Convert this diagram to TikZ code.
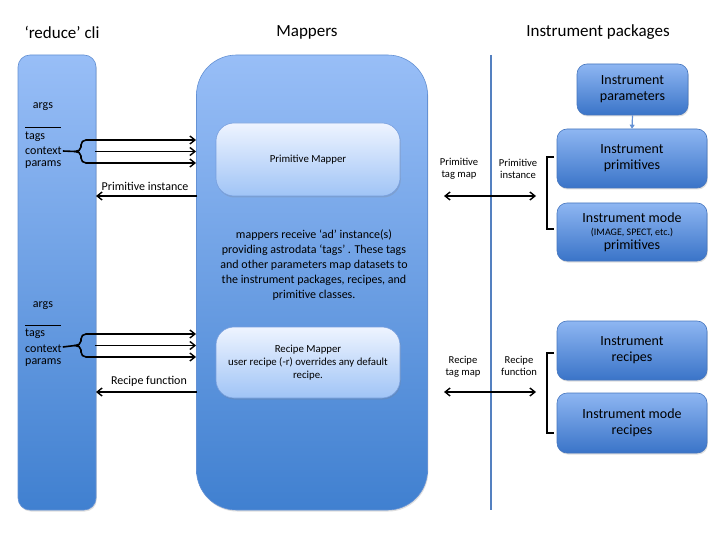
\documentclass[tikz,border=0pt]{standalone}
\usepackage{fontspec}
\setmainfont{Carlito}
\usetikzlibrary{arrows.meta,shadows}
\definecolor{colTop}{RGB}{152,190,247}
\definecolor{colBot}{RGB}{64,128,208}
\definecolor{colEdge}{RGB}{100,145,212}
\definecolor{boxTop}{RGB}{142,182,242}
\definecolor{boxBot}{RGB}{58,116,200}
\definecolor{boxEdge}{RGB}{70,118,190}
\definecolor{mapTop}{RGB}{238,244,255}
\definecolor{mapBot}{RGB}{160,196,246}
\definecolor{mapEdge}{RGB}{118,158,222}
\definecolor{divider}{RGB}{84,128,192}
\tikzset{
  hdr/.style={font=\fontsize{17}{19}\selectfont, inner sep=0pt},
  lbl/.style={font=\fontsize{12}{14}\selectfont, inner sep=0pt},
  sidelbl/.style={font=\fontsize{10.6}{12}\selectfont, inner sep=0pt, align=center},
  shad/.style={drop shadow={opacity=0.25, shadow xshift=0.8pt, shadow yshift=-1.5pt}},
  instbox/.style={draw=boxEdge, line width=0.6pt, rounded corners=10pt, top color=boxTop, bottom color=boxBot,
     font=\fontsize{14}{16}\selectfont, align=center, inner sep=0pt, shad},
  mapbox/.style={draw=mapEdge, line width=0.6pt, rounded corners=18pt, top color=mapTop, bottom color=mapBot,
     font=\fontsize{10.8}{13}\selectfont, align=center, inner sep=0pt, minimum width=184pt, shad},
  arr/.style={line width=1.6pt, -{Straight Barb[length=5pt,width=8pt,line width=1.4pt]}},
  darr/.style={line width=1.6pt, {Straight Barb[length=5pt,width=8pt,line width=1.4pt]}-{Straight Barb[length=5pt,width=8pt,line width=1.4pt]}},
  brk/.style={line width=1.6pt},
}
\begin{document}
\begin{tikzpicture}[x=1pt,y=-1pt]
\useasboundingbox (0,0) rectangle (720,540);
\fill[white] (0,0) rectangle (720,540);

% columns
\node[shad, draw=colEdge, line width=0.6pt, rounded corners=12pt, top color=colTop, bottom color=colBot,
      minimum width=78pt, minimum height=455pt, inner sep=0pt] (cli) at (57,282.5) {};
\node[shad, draw=colEdge, line width=0.6pt, rounded corners=40pt, top color=colTop, bottom color=colBot,
      minimum width=231pt, minimum height=455pt, inner sep=0pt] (mappers) at (312,282.5) {};

% divider
\coordinate (dvt) at (491,55); \coordinate (dvb) at (491,510);
\draw[divider, line width=1.5pt] (dvt) -- (dvb);

% headers
\node[hdr] (hcli) at (62,32) {‘reduce’ cli};
\node[hdr] (hmap) at (307,32) {Mappers};
\node[hdr] (hinst) at (598,32) {Instrument packages};

% mapper boxes
\node[mapbox, minimum height=73pt] (pmap) at (308,159.5) {Primitive Mapper};
\node[mapbox, minimum height=71pt] (rmap) at (308,362.5) {Recipe Mapper\\user recipe (-r) overrides any default\\recipe.};

\node[font=\fontsize{12}{14.8}\selectfont, align=center, inner sep=0pt] (mtext) at (314,265)
 {mappers receive ‘ad’ instance(s)\\providing astrodata ‘tags’ . These tags\\and other parameters map datasets to\\the instrument packages, recipes, and\\primitive classes.};

% instrument boxes
\node[instbox, minimum width=111pt, minimum height=51pt] (ipar) at (632.5,89.5) {Instrument\\parameters};
\node[instbox, minimum width=150pt, minimum height=59pt] (iprim) at (632,158.5) {Instrument\\primitives};
\node[instbox, minimum width=150pt, minimum height=58pt] (imode) at (632,232)
 {Instrument mode\\[-3pt]{\fontsize{10}{12}\selectfont (IMAGE, SPECT, etc.)}\\[-2pt]primitives};
\node[instbox, minimum width=150pt, minimum height=59pt] (irec) at (632,350.5) {Instrument\\recipes};
\node[instbox, minimum width=150pt, minimum height=60pt] (imrec) at (632,423) {Instrument mode\\recipes};
\draw[colEdge, line width=1.2pt, -{Triangle[length=4pt,width=5pt]}] (ipar.south) -- (iprim.north);

% left labels, group 1
\node[lbl] (args1) at (43,107) {args};
\coordinate (ul1a) at (25,127); \coordinate (ul1b) at (61,127);
\draw[line width=0.8pt] (ul1a) -- (ul1b);
\node[lbl, anchor=west] (tags1) at (25,137) {tags};
\node[lbl, anchor=west] (ctx1) at (25,151) {context};
\node[lbl, anchor=west] (par1) at (25,165) {params};

\coordinate (b1t) at (95,140); \coordinate (b1m) at (95,151.5); \coordinate (b1b) at (95,163);
\coordinate (m1t) at (196,140); \coordinate (m1m) at (196,151.5); \coordinate (m1b) at (196,163);
\draw[brk] (b1t) -- (86,140) to[out=180,in=90] (81,145) -- (81,147) to[out=-90,in=0] (75,151.5)
           to[out=0,in=90] (81,156) -- (81,158) to[out=-90,in=180] (86,163) -- (b1b);
\draw[brk] (ctx1.east) ++(1,0) -- (75,151.5);
\draw[arr] (b1t) -- (m1t);
\draw[arr] (b1m) -- (m1m);
\draw[arr] (b1b) -- (m1b);

\node[lbl] (piinst) at (145,186) {Primitive instance};
\coordinate (pi1) at (197,196); \coordinate (pi2) at (96,196);
\draw[arr] (pi1) -- (pi2);

% left labels, group 2
\node[lbl] (args2) at (43,306) {args};
\coordinate (ul2a) at (25,325); \coordinate (ul2b) at (61,325);
\draw[line width=0.8pt] (ul2a) -- (ul2b);
\node[lbl, anchor=west] (tags2) at (25,334) {tags};
\node[lbl, anchor=west] (ctx2) at (25,349) {context};
\node[lbl, anchor=west] (par2) at (25,363) {params};

\coordinate (b2t) at (95,334); \coordinate (b2m) at (95,345.5); \coordinate (b2b) at (95,357);
\coordinate (m2t) at (196,334); \coordinate (m2m) at (196,345.5); \coordinate (m2b) at (196,357);
\draw[brk] (b2t) -- (86,334) to[out=180,in=90] (81,339) -- (81,341) to[out=-90,in=0] (75,345.5)
           to[out=0,in=90] (81,350) -- (81,352) to[out=-90,in=180] (86,357) -- (b2b);
\draw[brk] (ctx2.east) ++(1,-2) -- (75,345.5);
\draw[arr] (b2t) -- (m2t);
\draw[arr] (b2m) -- (m2m);
\draw[arr] (b2b) -- (m2b);

\node[lbl] (rfunc) at (149,381) {Recipe function};
\coordinate (rf1) at (197,392); \coordinate (rf2) at (96,392);
\draw[arr] (rf1) -- (rf2);

% right side labels and arrows
\node[sidelbl] (ptm) at (459,169) {Primitive\\tag map};
\node[sidelbl] (pin) at (518,169) {Primitive\\instance};
\coordinate (pa1) at (444,196); \coordinate (pa2) at (536,196);
\draw[darr] (pa1) -- (pa2);
\coordinate (pbt) at (554,157); \coordinate (pbb) at (554,229);
\draw[brk] (pbt) -- (547,157) -- (547,229) -- (pbb);

\node[sidelbl] (rtm) at (463,367) {Recipe\\tag map};
\node[sidelbl] (rfn) at (519,366) {Recipe\\function};
\coordinate (ra1) at (444,392); \coordinate (ra2) at (536,392);
\draw[darr] (ra1) -- (ra2);
\coordinate (rbt) at (554,353); \coordinate (rbb) at (554,433);
\draw[brk] (rbt) -- (547,353) -- (547,433) -- (rbb);
\end{tikzpicture}
\end{document}
